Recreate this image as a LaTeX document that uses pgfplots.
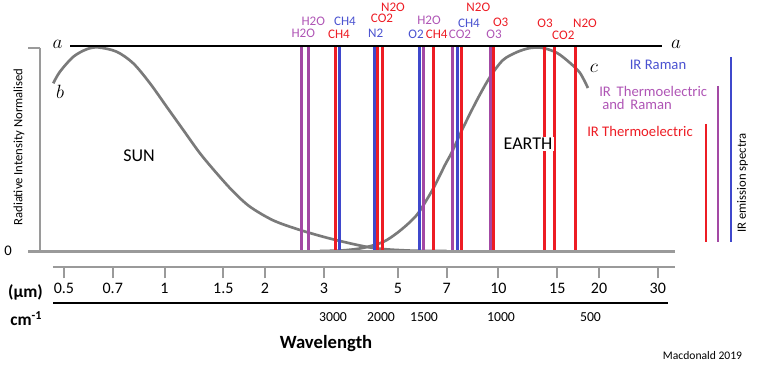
\documentclass[border=0pt]{standalone}
\usepackage{pgfplots}
\pgfplotsset{compat=1.18}
\usepackage{fontspec}
\setmainfont{Carlito}
\definecolor{lred}{HTML}{ED1C24}
\definecolor{lblue}{HTML}{3F48CC}
\definecolor{lpurple}{HTML}{A349A4}
\definecolor{tpurple}{HTML}{AF55B5}
\definecolor{tblue}{HTML}{4A52D0}
\definecolor{curvegray}{HTML}{7A7A7A}
\definecolor{axgray}{HTML}{9A9A9A}
\newcommand{\fs}[1]{\fontsize{#1}{#1}\selectfont}
\begin{document}
\begin{tikzpicture}
\useasboundingbox (0,0) rectangle (573pt,274.5pt);
\begin{axis}[
  at={(0,0)}, anchor=south west,
  scale only axis, width=573pt, height=274.5pt,
  xmode=log, xmin=0.3218, xmax=62.36,
  ymin=-0.5637, ymax=1.2304,
  hide axis, clip=false,
]
% Sun curve
\addplot[curvegray, line width=2pt, smooth, tension=0.5] coordinates {
 (0.4646,0.822) (0.4865,0.879) (0.5333,0.952) (0.5850,0.989) (0.6334,0.998)
 (0.7191,0.977) (0.8063,0.920) (0.9049,0.822) (1.0153,0.707) (1.1384,0.593)
 (1.2772,0.479) (1.4331,0.381) (1.6069,0.291) (1.8030,0.217) (2.117,0.150)
 (2.545,0.103) (3.201,0.057) (4.210,0.015) (5.433,0.002) (7.0,0.0)
};
% Earth curve
\addplot[curvegray, line width=2pt, smooth, tension=0.5] coordinates {
 (2.921,0.0) (3.422,0.003) (3.929,0.015) (4.511,0.044) (4.968,0.088)
 (5.433,0.142) (5.781,0.191) (6.367,0.304) (6.918,0.422) (7.256,0.485)
 (7.829,0.603) (8.622,0.740) (9.432,0.853) (10.316,0.936) (11.36,0.975)
 (12.43,0.995) (13.59,0.995) (14.97,0.971) (16.37,0.922) (17.54,0.873)
 (18.53,0.799)
};
% spectral lines: purple (IR thermoelectric and Raman)
\pgfplotsinvokeforeach{2.576,2.696,5.955,7.271,9.476}{
  \addplot[lpurple, line width=2.2pt] coordinates {(#1,-0.005) (#1,1.005)};
}
% blue (IR Raman)
\pgfplotsinvokeforeach{3.337,4.254,5.793,7.525}{
  \addplot[lblue, line width=2.2pt] coordinates {(#1,-0.005) (#1,1.005)};
}
% red (IR thermoelectric)
\pgfplotsinvokeforeach{3.246,4.343,4.489,6.389,7.737,9.647,13.71,14.69,17.02}{
  \addplot[lred, line width=2.2pt] coordinates {(#1,-0.005) (#1,1.005)};
}
\end{axis}
% wavelength scale
\begin{axis}[
  at={(39.75pt,74.25pt)}, anchor=south west,
  scale only axis, width=466.5pt, height=10pt,
  xmode=log, xmin=0.46357, xmax=33.77, ymin=0, ymax=1,
  axis x line=bottom, axis y line=none,
  axis line style={-, axgray, line width=2.2pt},
  xtick={0.5,0.7,1,1.5,2,3,5,7,10,15,20,30},
  xticklabels={0.5,0.7,1,1.5,2,3,5,7,10,15,20,30},
  minor xtick={},
  xtick align=outside,
  major tick length=8.5pt,
  xtick style={axgray, line width=1.5pt},
  xticklabel style={font=\fs{12}, yshift=0pt},
  /pgf/number format/assume math mode=true,
]
\addplot[draw=none] coordinates {(1,0.5)};
\end{axis}
\begin{scope}[x=0.75pt, y=-0.75pt, yshift=274.5pt]
% axes decorations
\draw[axgray, line width=2.4pt] (28,251.5) -- (675,251.5);
\draw[axgray, line width=1.8pt] (40,48) -- (40,251.5);
\draw[axgray, line width=1.8pt] (28,48) -- (40,48);
\draw[black, line width=1.1pt] (70,46) -- (662,46);
\draw[black, line width=1pt] (53,303) -- (668,303);
\node[font=\fs{11}] at (8,251) {0};
\node[font=\fs{14}] at (57.5,44) {$a$};
\node[font=\fs{14}] at (676,44) {$a$};
\node[font=\fs{14}] at (60,92) {$b$};
\node[font=\fs{14}] at (594,68) {$c$};
\node[font=\fs{9.5}, rotate=90] at (19,147) {Radiative Intensity Normalised};
\node[font=\fs{13.5}] at (139,156) {SUN};
\node[font=\fs{13.5}, fill=white, inner sep=1pt] at (528,144) {EARTH};
% gas labels
\begin{scope}[font=\fs{9.8}, inner sep=0pt]
\node[tpurple] at (303.3,33.5) {H2O};
\node[tpurple] at (313.3,21.5) {H2O};
\node[tblue]   at (345,21) {CH4};
\node[lred]    at (339,34) {CH4};
\node[lred]    at (393,7) {N2O};
\node[lred]    at (382,18.5) {CO2};
\node[tblue]   at (375.7,33) {N2};
\node[tblue]   at (416,34) {O2};
\node[tpurple] at (429,20.5) {H2O};
\node[lred]    at (436.7,34.3) {CH4};
\node[tpurple] at (460,34.3) {CO2};
\node[tblue]   at (469,23) {CH4};
\node[lred]    at (478.3,7.5) {N2O};
\node[lred]    at (500.7,22.3) {O3};
\node[tpurple] at (494,34.3) {O3};
\node[lred]    at (545,23) {O3};
\node[lred]    at (563.3,35) {CO2};
\node[lred]    at (585,23) {N2O};
\end{scope}
% legend
\node[tblue, font=\fs{11}] at (658,65) {IR Raman};
\node[tpurple, font=\fs{11}, anchor=west, inner sep=0pt] at (599,91) {IR\, Thermoelectric};
\node[tpurple, font=\fs{11}, anchor=west, inner sep=0pt] at (602,104.5) {and\, Raman};
\node[lred, font=\fs{11}, anchor=west, inner sep=0pt] at (587,131) {IR Thermoelectric};
\draw[lblue, line width=2.2pt] (731,57) -- (731,242);
\draw[lpurple, line width=2.2pt] (718,86) -- (718,242);
\draw[lred, line width=2.2pt] (706,124) -- (706,242);
\node[font=\fs{9.5}, rotate=90] at (742.5,183) {IR emission spectra};
% bottom texts
\node[font=\bfseries\fs{13}] at (25.5,292) {(µm)};
\node[font=\bfseries\fs{13}, anchor=west, inner sep=0pt] at (10,319) {cm\textsuperscript{-1}};
\begin{scope}[font=\fs{10.3}]
\node at (333,317.5) {3000};
\node at (381,317.5) {2000};
\node at (424,317.5) {1500};
\node at (501,317.5) {1000};
\node at (590.5,317.5) {500};
\end{scope}
\node[font=\bfseries\fs{14}] at (326,343.5) {Wavelength};
\node[font=\fs{8.7}] at (702.5,356) {Macdonald 2019};
\end{scope}
\end{tikzpicture}
\end{document}
